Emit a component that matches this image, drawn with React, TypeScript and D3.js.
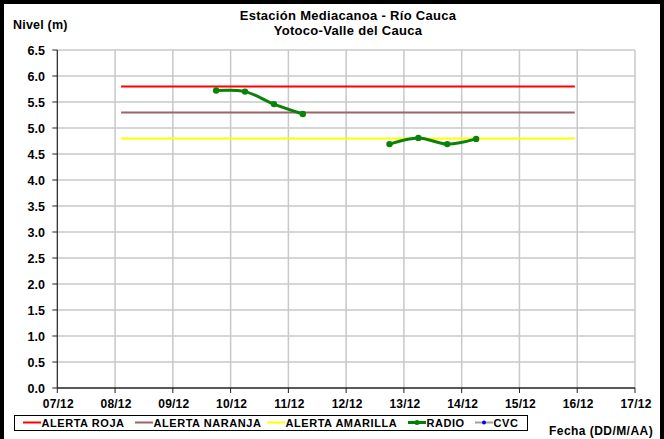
import React from "react";
import * as d3 from "d3";

const W = 664;
const H = 439;

const xTickLabels = ["07/12", "08/12", "09/12", "10/12", "11/12", "12/12", "13/12", "14/12", "15/12", "16/12", "17/12"];
const yTicks = [0, 0.5, 1, 1.5, 2, 2.5, 3, 3.5, 4, 4.5, 5, 5.5, 6, 6.5];

const alertStart = "2010-12-08T02:30";
const alertEnd = "2010-12-15T23:00";
const alertRoja = 5.8;
const alertNaranja = 5.3;
const alertAmarilla = 4.8;

const radioTimes = [
  "2010-12-09T18:00",
  "2010-12-10T06:00",
  "2010-12-10T18:00",
  "2010-12-11T06:00",
  "2010-12-12T06:00",
  "2010-12-12T18:00",
  "2010-12-13T06:00",
  "2010-12-13T18:00",
  "2010-12-14T06:00",
];
const radioValues: (number | null)[] = [5.72, 5.7, 5.46, 5.27, null, 4.69, 4.81, 4.69, 4.79];

const legendItems = [
  { label: "ALERTA ROJA", color: "#ff0000", marker: false },
  { label: "ALERTA NARANJA", color: "#996666", marker: false },
  { label: "ALERTA AMARILLA", color: "#ffff00", marker: false },
  { label: "RADIO", color: "#008000", marker: true },
  { label: "CVC", color: "#a0a0a0", marker: true, markerColor: "#0000ff" },
];
const legendX = [23, 135, 267, 408, 475];

const FONT = "'Liberation Sans', Arial, Helvetica, sans-serif";

export default function App() {
  const parse = (s: string) => new Date(s);
  const x = d3
    .scaleTime()
    .domain([parse("2010-12-07T00:00"), parse("2010-12-17T00:00")])
    .range([57.3, 635]);
  const y = d3.scaleLinear().domain([0, 6.5]).range([388, 50]);

  const xTicks = d3.range(11).map((i) => new Date(2010, 11, 7 + i));
  const radio = radioTimes.map((t, i) => ({ t: parse(t), v: radioValues[i] }));
  const line = d3
    .line<{ t: Date; v: number | null }>()
    .defined((d) => d.v !== null)
    .x((d) => x(d.t))
    .y((d) => y(d.v as number))
    .curve(d3.curveCatmullRom.alpha(0.5));

  const alerts = [
    { v: alertAmarilla, c: "#ffff00" },
    { v: alertNaranja, c: "#996666" },
    { v: alertRoja, c: "#ff0000" },
  ];

  const [x0, x1] = x.range();
  const [y0, y1] = y.range();

  return (
    <svg
      width={W}
      height={H}
      style={{ position: "absolute", left: 0, top: 0, background: "#fff" }}
      fontFamily={FONT}
    >
      <rect x={0} y={0} width={W} height={H} fill="#fff" />
      <rect x={2} y={2} width={660} height={480} fill="none" stroke="#000" strokeWidth={4} />

      {/* title */}
      <text x={348} y={19.5} textAnchor="middle" fontSize={13} fontWeight="bold" letterSpacing={0.3}>
        Estación Mediacanoa - Río Cauca
      </text>
      <text x={348} y={34.5} textAnchor="middle" fontSize={13} fontWeight="bold" letterSpacing={0.3}>
        Yotoco-Valle del Cauca
      </text>
      <text x={13} y={28.5} fontSize={12.5} fontWeight="bold" letterSpacing={0.2}>
        Nivel (m)
      </text>

      {/* grid */}
      {yTicks.slice(1).map((t) => (
        <line key={"gy" + t} x1={x0} x2={x1} y1={y(t)} y2={y(t)} stroke="#c8c8c8" strokeWidth={1.5} />
      ))}
      {xTicks.slice(1).map((d, i) => (
        <line key={"gx" + i} x1={x(d)} x2={x(d)} y1={y0} y2={y1} stroke="#c8c8c8" strokeWidth={1.5} />
      ))}

      {/* axes */}
      <line x1={x0} x2={x0} y1={y1} y2={y0} stroke="#222" strokeWidth={1.2} />
      <line x1={x0} x2={x1} y1={y0} y2={y0} stroke="#222" strokeWidth={1.5} />
      {yTicks.map((t) => (
        <g key={"yt" + t}>
          <line x1={x0 - 5} x2={x0} y1={y(t)} y2={y(t)} stroke="#222" strokeWidth={1} />
          <text x={45} y={y(t)} dy="0.36em" textAnchor="end" fontSize={12.5} fontWeight="bold">
            {t.toFixed(1)}
          </text>
        </g>
      ))}
      {xTicks.map((d, i) => (
        <g key={"xt" + i}>
          <line x1={x(d)} x2={x(d)} y1={y0} y2={y0 + 5} stroke="#222" strokeWidth={1} />
          <text x={x(d) + 1} y={408} textAnchor="middle" fontSize={12} fontWeight="bold" letterSpacing={0.2}>
            {xTickLabels[i]}
          </text>
        </g>
      ))}

      {/* alert lines */}
      {alerts.map((a) => (
        <line
          key={"al" + a.v}
          x1={x(parse(alertStart))}
          x2={x(parse(alertEnd))}
          y1={y(a.v)}
          y2={y(a.v)}
          stroke={a.c}
          strokeWidth={2}
        />
      ))}

      {/* radio */}
      <path d={line(radio) || ""} fill="none" stroke="#0a820a" strokeWidth={3} />
      {radio
        .filter((d) => d.v !== null)
        .map((d, i) => (
          <circle key={"r" + i} cx={x(d.t)} cy={y(d.v as number)} r={3.2} fill="#0a820a" />
        ))}

      {/* legend */}
      <rect x={14.5} y={415.5} width={513} height={15} fill="#fff" stroke="#000" strokeWidth={1} />
      {legendItems.map((it, i) => (
        <g key={it.label}>
          <line x1={legendX[i]} x2={legendX[i] + 18} y1={422.5} y2={422.5} stroke={it.color} strokeWidth={it.label === "RADIO" ? 3 : 2} />
          {it.marker && (
            <circle cx={legendX[i] + 9} cy={422.5} r={it.label === "RADIO" ? 2.5 : 2} fill={it.markerColor || it.color} />
          )}
          <text x={legendX[i] + 18.5} y={426.8} fontSize={11} fontWeight="bold" letterSpacing={0.55}>
            {it.label}
          </text>
        </g>
      ))}
      <text x={549} y={434.5} fontSize={12} fontWeight="bold" letterSpacing={0.45}>
        Fecha (DD/M/AA)
      </text>
    </svg>
  );
}
